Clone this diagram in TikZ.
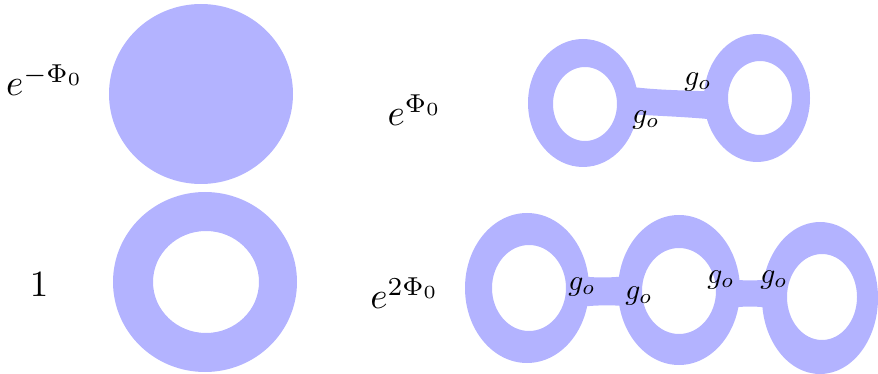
\documentclass[tikz,border=0pt]{standalone}
\usepackage{tikz}
\definecolor{ringblue}{HTML}{B3B3FF}

\begin{document}
\begin{tikzpicture}[x=1pt, y=-1pt,
    ring/.style={fill=ringblue, even odd rule},
    band/.style={fill=ringblue},
    weight/.style={scale=3.7, inner sep=0pt},
    glabel/.style={scale=2.95, inner sep=0pt}]
  \useasboundingbox (0,0) rectangle (878,374);
  % thin tubes between the holes
  \fill[band] (625,86) .. controls (660,91) and (690,90) .. (718,92)
    -- (718,120) .. controls (690,117) and (660,116) .. (625,114) -- cycle;
  \fill[band] (580,276) .. controls (595,278) and (610,278) .. (626,276)
    -- (626,306) .. controls (610,305) and (595,305) .. (580,307) -- cycle;
  \fill[band] (730,279) .. controls (745,281) and (755,281) .. (770,279)
    -- (770,308) .. controls (755,306) and (745,306) .. (730,308) -- cycle;
  % disk
  \fill[ringblue] (201,94) ellipse [x radius=92pt, y radius=90pt];
  % rings: centre / outer radii / hole centre / hole radii
  \foreach \cx/\cy/\rx/\ry/\hx/\hy/\hrx/\hry in {
      205/282/92/90/206/282/53/51,
      583/103/55/64/585/104/32/37,
      757/98/53/64/760/98/32/37,
      527/288/62/75/529/288/37/43,
      679/290/61/75/679/291/37/43,
      820/298/58/76/822/297/35/43}{
    \fill[ring] (\cx,\cy) ellipse [x radius=\rx pt, y radius=\ry pt]
      (\hx,\hy) ellipse [x radius=\hrx pt, y radius=\hry pt];
  }
  % weights
  \node[weight] (wdisk) at (45,80) {$e^{-\Phi_0}$};
  \node[weight] (wann) at (39,285) {$1$};
  \node[weight] (wone) at (415,110) {$e^{\Phi_0}$};
  \node[weight] (wtwo) at (405,293) {$e^{2\Phi_0}$};
  % couplings
  \node[glabel] (ga) at (698,82) {$g_o$};
  \node[glabel] (gb) at (646,120) {$g_o$};
  \node[glabel] (gc) at (582,287) {$g_o$};
  \node[glabel] (gd) at (639,296) {$g_o$};
  \node[glabel] (ge) at (721,280) {$g_o$};
  \node[glabel] (gf) at (774,280) {$g_o$};
\end{tikzpicture}
\end{document}
